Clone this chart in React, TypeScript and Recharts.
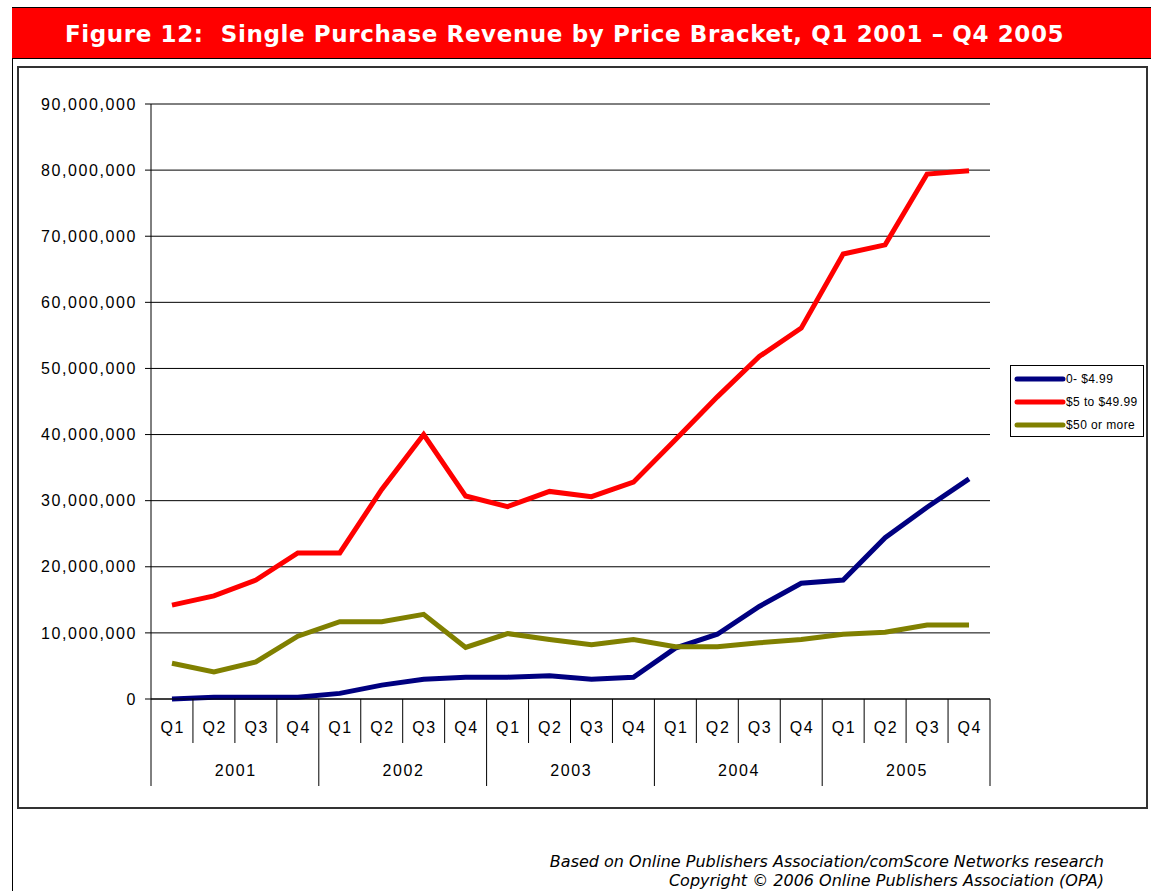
import React from 'react';
import { LineChart, Line, XAxis, YAxis, CartesianGrid, Legend } from 'recharts';

// Quarterly single purchase revenue (USD), Q1 2001 - Q4 2005
const YEARS = ['2001', '2002', '2003', '2004', '2005'];
const QUARTERS = ['Q1', 'Q2', 'Q3', 'Q4'];

const UNDER_5 = [
  0, 250000, 250000, 250000,
  850000, 2100000, 3000000, 3300000,
  3300000, 3500000, 3000000, 3300000,
  7700000, 9800000, 14000000, 17500000,
  18000000, 24400000, 29000000, 33300000,
];
const FIVE_TO_50 = [
  14200000, 15600000, 18000000, 22100000,
  22100000, 31700000, 40000000, 30700000,
  29100000, 31400000, 30600000, 32800000,
  39200000, 45700000, 51800000, 56100000,
  67300000, 68700000, 79400000, 79900000,
];
const OVER_50 = [
  5400000, 4100000, 5600000, 9500000,
  11700000, 11700000, 12800000, 7800000,
  9900000, 9000000, 8200000, 9000000,
  7900000, 7900000, 8500000, 9000000,
  9800000, 10100000, 11200000, 11200000,
];
const Y_TICKS = [0, 10000000, 20000000, 30000000, 40000000, 50000000, 60000000, 70000000, 80000000, 90000000];

const SERIES = [
  { key: 'low', name: '0- $4.99', color: '#000080' },
  { key: 'mid', name: '$5 to $49.99', color: '#ff0000' },
  { key: 'high', name: '$50 or more', color: '#808000' },
];

const data = YEARS.flatMap((year, yi) =>
  QUARTERS.map((q, qi) => {
    const i = yi * 4 + qi;
    return { period: `${year} ${q}`, year, quarter: q, low: UNDER_5[i], mid: FIVE_TO_50[i], high: OVER_50[i] };
  })
);

const FONT = '"Liberation Sans", Arial, sans-serif';
const PLOT_W = 839;
const BAND = PLOT_W / data.length;

function PeriodTick(props: any) {
  const { x, y, payload } = props;
  const i = payload.index;
  const row = data[i];
  const half = BAND / 2;
  const left = x - half;
  const yearStart = row.quarter === 'Q1';
  return (
    <g>
      <line x1={left} x2={left} y1={y} y2={y + (yearStart ? 87 : 44)} stroke="#000" strokeWidth={1} />
      {i === data.length - 1 && (
        <line x1={x + half} x2={x + half} y1={y} y2={y + 87} stroke="#000" strokeWidth={1} />
      )}
      <text x={x + 0.8} y={y + 34} textAnchor="middle" fontSize={16} letterSpacing={1.6} fontFamily={FONT} fill="#000">
        {row.quarter}
      </text>
      {row.quarter === 'Q2' && (
        <text x={x + half + 0.8} y={y + 77} textAnchor="middle" fontSize={16} letterSpacing={1.6} fontFamily={FONT} fill="#000">
          {row.year}
        </text>
      )}
    </g>
  );
}

function LegendBox() {
  return (
    <div style={{ border: '1px solid #000', background: '#fff', width: 134, height: 72, boxSizing: 'border-box', paddingTop: 1 }}>
      {SERIES.map((s) => (
        <div key={s.key} style={{ display: 'flex', alignItems: 'center', height: 23.3 }}>
          <svg width={52} height={8} style={{ marginLeft: 3 }}>
            <line x1={3} x2={49} y1={4} y2={4} stroke={s.color} strokeWidth={5} strokeLinecap="round" />
          </svg>
          <span style={{ fontFamily: FONT, fontSize: 12, color: '#000', letterSpacing: 0.4, whiteSpace: 'nowrap' }}>{s.name}</span>
        </div>
      ))}
    </div>
  );
}

export default function App() {
  return (
    <div style={{ position: 'absolute', left: 0, top: 0, width: 1151, height: 891, background: '#fff', overflow: 'hidden' }}>
      {/* page frame */}
      <div style={{ position: 'absolute', left: 12, top: 7, width: 1, height: 884, background: '#000' }} />
      <div
        style={{
          position: 'absolute', left: 12, top: 7, width: 1139, height: 50,
          background: '#ff0000', borderTop: '1px solid #000', borderBottom: '1px solid #000',
        }}
      />
      <div
        style={{
          position: 'absolute', left: 65, top: 20, color: '#fff', fontWeight: 'bold',
          fontFamily: '"DejaVu Sans", Verdana, sans-serif', fontSize: 23, letterSpacing: 0.6,
          lineHeight: '29px', whiteSpace: 'nowrap',
        }}
      >
        Figure 12:&nbsp; Single Purchase Revenue by Price Bracket, Q1 2001 – Q4 2005
      </div>
      <div
        style={{
          position: 'absolute', left: 17, top: 66, width: 1131, height: 743,
          border: '2px solid #333', boxSizing: 'border-box',
        }}
      />

      <div style={{ position: 'absolute', left: 0, top: 0 }}>
        <LineChart width={1151} height={891} data={data} margin={{ top: 104, right: 161, bottom: 102, left: 0 }}>
          <CartesianGrid vertical={false} stroke="#000" strokeWidth={1} />
          <XAxis
            dataKey="period"
            interval={0}
            height={90}
            padding={{ left: BAND / 2, right: BAND / 2 }}
            tickLine={false}
            tickSize={0}
            tickMargin={0}
            axisLine={{ stroke: '#000' }}
            tick={<PeriodTick />}
          />
          <YAxis
            width={151}
            domain={[0, 90000000]}
            ticks={Y_TICKS}
            interval={0}
            tickSize={6}
            tickMargin={8}
            axisLine={{ stroke: '#000' }}
            tickLine={{ stroke: '#000' }}
            tick={{ fontSize: 16, fontFamily: FONT, fill: '#000', letterSpacing: 1.6 }}
            tickFormatter={(v: number) => v.toLocaleString('en-US')}
          />
          <YAxis yAxisId="frame" orientation="right" width={0} tick={false} tickLine={false} axisLine={{ stroke: '#000' }} />
          <Legend
            layout="vertical"
            align="center"
            verticalAlign="middle"
            wrapperStyle={{ left: 1010, top: 365, width: 134, height: 72 }}
            content={<LegendBox />}
          />
          {SERIES.map((s) => (
            <Line
              key={s.key}
              type="linear"
              dataKey={s.key}
              name={s.name}
              stroke={s.color}
              strokeWidth={5}
              dot={false}
              isAnimationActive={false}
            />
          ))}
        </LineChart>
      </div>

      <div
        style={{
          position: 'absolute', right: 47, top: 852, textAlign: 'right', fontStyle: 'italic',
          fontFamily: '"DejaVu Sans", Verdana, sans-serif', fontSize: 16, lineHeight: '19px', color: '#000',
        }}
      >
        Based on Online Publishers Association/comScore Networks research
        <br />
        Copyright © 2006 Online Publishers Association (OPA)
      </div>
    </div>
  );
}
